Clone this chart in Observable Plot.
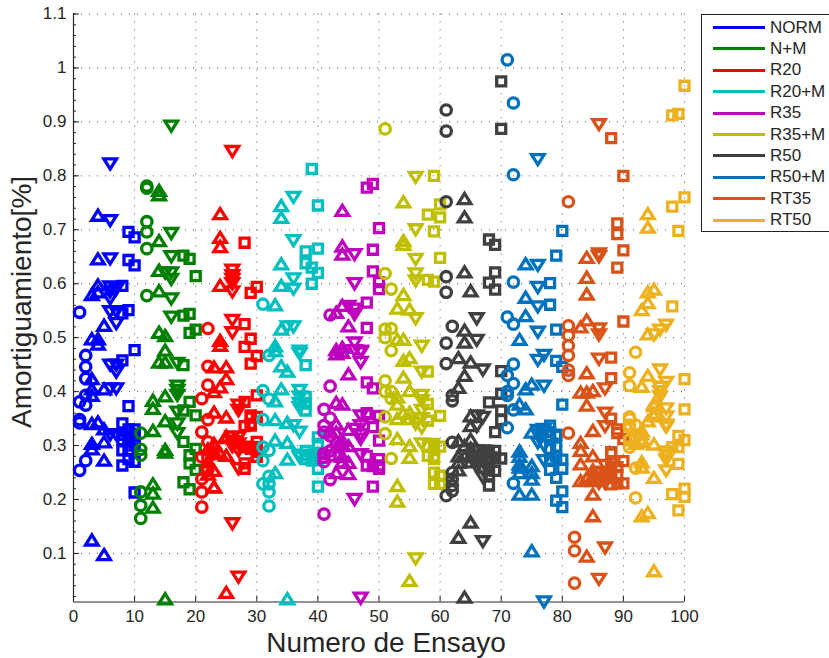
<!DOCTYPE html>
<html><head><meta charset="utf-8">
<script src="https://cdn.jsdelivr.net/npm/d3@7"></script>
<script src="https://cdn.jsdelivr.net/npm/@observablehq/plot@0.6"></script>
<style>
html,body{margin:0;padding:0;background:#fff;overflow:hidden;width:829px;height:658px}
#wrap{position:relative;width:829px;height:658px;font-family:"Liberation Sans",Arial,sans-serif}
#legend{position:absolute;left:701px;top:13.5px;width:140px;height:218.5px;border:1.2px solid #222;background:#fff;box-sizing:border-box}
#legend .row{position:absolute;left:0;height:20px;color:#262626;font-size:17px;line-height:20px}
#legend .sw{position:absolute;left:10.5px;top:8.5px;width:52px;height:3px}
#legend .lb{position:absolute;left:68px;top:0;white-space:nowrap}
</style></head><body><div id="wrap"><div id="chart"></div><div id="legend"></div></div>
<script>
const seriesNames=["NORM","N+M","R20","R20+M","R35","R35+M","R50","R50+M","RT35","RT50"];
const seriesColors=["#0000ff","#008000","#ff0000","#00bfbf","#bf00bf","#bfbf00","#404040","#0072bd","#d95319","#edb120"];
const xTicks=[0,10,20,30,40,50,60,70,80,90,100];
const yTicks=[0.1,0.2,0.3,0.4,0.5,0.6,0.7,0.8,0.9,1,1.1];
const yMinor=d3.range(1,56).map(i=>i*0.02);

const NORM_o=[[1,.547],[2,.467],[2,.446],[2,.424],[1,.381],[2,.393],[2,.375],[1,.348],[1,.342],[2,.272],[1,.254]];
const NORM_u=[[4,.727],[4,.646],[4,.598],[4,.585],[3,.58],[5,.523],[3,.498],[4,.498],[4,.488],[3,.424],[3,.405],[3,.393],[5,.405],[3,.341],[4,.344],[5,.331],[3,.304],[3,.294],[5,.307],[5,.273],[3,.125],[5,.098]];
const NORM_d=[[6,.822],[6,.717],[6,.646],[6,.594],[6,.585],[6,.572],[7,.59],[6,.548],[7,.548],[7,.526],[6,.449],[7,.449],[7,.436],[6,.405],[7,.405],[7,.32],[6,.32]];
const NORM_s=[[9,.696],[10,.686],[9,.644],[10,.634],[8,.596],[9,.551],[8,.545],[10,.477],[8,.458],[9,.373],[8,.341],[10,.322],[9,.316],[8,.31],[8,.291],[8,.263],[10,.27],[9,.291],[10,.213],[9,.31],[9,.33],[9,.275],[10,.3],[10,.31],[8,.32],[10,.33]];

const NM_o=[[12,.781],[12,.777],[12,.715],[12,.696],[12,.665],[12,.578],[11,.323],[11,.293],[11,.282],[11,.214],[11,.189],[11,.165]];
const NM_u=[[14,.773],[14,.765],[14,.68],[14,.625],[14,.587],[14,.51],[15,.504],[15,.477],[14,.455],[15,.455],[13,.384],[13,.369],[15,.392],[13,.328],[15,.346],[15,.293],[15,.288],[13,.229],[13,.212],[13,.186],[15,.016]];
const NM_d=[[16,.892],[16,.693],[16,.65],[16,.62],[16,.608],[15,.62],[16,.572],[16,.538],[17,.452],[17,.41],[17,.402],[17,.393],[17,.362],[17,.34],[17,.322]];
const NM_s=[[18,.652],[19,.646],[20,.614],[18,.541],[19,.544],[19,.509],[20,.515],[18,.449],[18,.365],[19,.381],[20,.356],[18,.307],[20,.294],[19,.282],[19,.267],[20,.255],[18,.232],[19,.219]];

const R20_o=[[22,.517],[22,.447],[22,.412],[21,.387],[22,.348],[21,.325],[22,.307],[21,.279],[21,.238],[21,.214],[21,.186],[22,.278],[22,.255]];
const R20_u=[[24,.73],[24,.686],[24,.669],[24,.597],[24,.495],[24,.486],[23,.446],[25,.446],[25,.424],[24,.409],[23,.4],[23,.362],[25,.353],[25,.318],[23,.304],[23,.288],[25,.282],[24,.285],[23,.254],[22,.247],[23,.223],[25,.028],[25,.315],[23,.3],[22,.294],[23,.285],[22,.27],[23,.224]];
const R20_d=[[26,.845],[26,.625],[26,.615],[26,.608],[26,.6],[26,.585],[26,.532],[26,.509],[27,.375],[27,.365],[26,.316],[27,.315],[27,.303],[26,.307],[26,.298],[27,.29],[27,.257],[26,.155],[27,.056]];
const R20_s=[[28,.676],[30,.594],[29,.583],[28,.525],[29,.498],[28,.483],[30,.466],[29,.452],[30,.393],[28,.381],[29,.356],[30,.353],[28,.336],[29,.34],[30,.307],[28,.298],[30,.291],[29,.294],[28,.267],[30,.279],[28,.257],[29,.337],[29,.352],[28,.297],[29,.297],[30,.297],[30,.288]];

const R20M_o=[[31,.562],[32,.467],[31,.402],[32,.386],[31,.348],[31,.297],[32,.291],[31,.272],[32,.243],[31,.229],[32,.229],[32,.214],[32,.188]];
const R20M_u=[[34,.745],[34,.723],[34,.637],[34,.597],[33,.561],[34,.516],[33,.485],[33,.476],[34,.448],[35,.438],[34,.405],[33,.383],[33,.348],[35,.343],[33,.31],[35,.306],[35,.275],[33,.25],[35,.016]];
const R20M_d=[[36,.76],[36,.68],[36,.609],[36,.59],[36,.52],[35,.52],[37,.475],[37,.47],[37,.402],[37,.39],[37,.378],[37,.37],[36,.337],[37,.325],[37,.282],[37,.278]];
const R20M_s=[[39,.813],[40,.745],[38,.66],[40,.665],[38,.638],[39,.63],[40,.62],[39,.6],[38,.449],[38,.39],[38,.378],[38,.365],[40,.315],[40,.303],[38,.282],[38,.275],[39,.272],[40,.257],[40,.224],[38,.29],[39,.28],[40,.285]];

const R35_o=[[42,.542],[42,.41],[41,.367],[42,.351],[41,.337],[41,.325],[42,.318],[42,.281],[41,.278],[42,.237],[41,.173],[41,.285],[41,.27],[42,.29]];
const R35_u=[[44,.736],[44,.67],[44,.655],[44,.56],[43,.547],[45,.522],[44,.482],[43,.478],[44,.473],[43,.47],[45,.433],[43,.38],[44,.377],[43,.34],[45,.33],[45,.3],[43,.309],[45,.269],[43,.25],[45,.248],[44,.302],[43,.325],[44,.31],[43,.297],[44,.28],[44,.27]];
const R35_d=[[46,.654],[46,.6],[46,.553],[45,.558],[46,.543],[46,.49],[47,.475],[46,.476],[47,.472],[47,.454],[47,.355],[47,.337],[47,.312],[47,.283],[46,.2],[47,.017],[46,.33],[47,.32]];
const R35_s=[[49,.785],[48,.778],[50,.703],[49,.663],[49,.623],[50,.603],[50,.59],[48,.565],[48,.518],[48,.417],[49,.406],[48,.358],[50,.355],[49,.334],[50,.309],[48,.281],[48,.263],[50,.263],[50,.257],[49,.224],[50,.275],[49,.262],[48,.36]];

const R35M_o=[[51,.887],[51,.619],[52,.59],[51,.516],[52,.517],[51,.5],[52,.476],[51,.42],[51,.4],[52,.4],[52,.387],[51,.353],[51,.322],[52,.276]];
const R35M_u=[[54,.752],[54,.68],[54,.673],[54,.58],[53,.555],[55,.553],[53,.497],[54,.497],[54,.458],[55,.463],[54,.427],[55,.402],[53,.377],[53,.35],[55,.362],[53,.313],[55,.3],[55,.278],[53,.226],[53,.197],[55,.05],[53,.39],[54,.36],[55,.35]];
const R35M_d=[[56,.797],[56,.7],[56,.645],[56,.618],[56,.605],[56,.535],[57,.484],[57,.436],[57,.393],[57,.383],[57,.333],[57,.303],[56,.09],[56,.34],[57,.35],[57,.365]];
const R35M_s=[[59,.8],[60,.747],[58,.728],[60,.723],[59,.697],[60,.648],[58,.607],[59,.604],[58,.437],[58,.377],[58,.346],[60,.355],[59,.303],[60,.298],[58,.281],[59,.275],[59,.25],[60,.244],[59,.229],[60,.229],[58,.3],[59,.28]];

const R50_o=[[61,.922],[61,.883],[61,.752],[61,.613],[61,.584],[62,.521],[61,.49],[61,.452],[62,.393],[62,.383],[62,.306],[62,.25],[62,.238],[62,.226],[62,.216],[61,.207]];
const R50_u=[[64,.758],[64,.724],[64,.622],[65,.587],[64,.514],[64,.492],[63,.463],[65,.455],[64,.43],[63,.408],[65,.355],[65,.337],[63,.309],[65,.312],[63,.281],[63,.269],[65,.281],[65,.158],[63,.13],[64,.019],[64,.28],[65,.27],[64,.3],[65,.295],[63,.255]];
const R50_d=[[66,.535],[66,.495],[67,.44],[66,.355],[67,.352],[66,.335],[67,.29],[67,.28],[67,.241],[67,.122],[66,.29],[67,.27],[66,.275],[66,.26],[67,.255]];
const R50_s=[[70,.975],[70,.887],[68,.682],[69,.672],[69,.621],[68,.602],[69,.589],[70,.438],[70,.396],[68,.38],[70,.365],[70,.347],[69,.325],[68,.29],[70,.276],[69,.278],[69,.253],[68,.226],[68,.275],[68,.26],[69,.29],[68,.245]];

const R50M_o=[[71,1.015],[72,.935],[72,.802],[72,.603],[71,.538],[72,.525],[72,.451],[71,.43],[72,.415],[71,.4],[71,.393],[72,.366],[71,.333],[72,.23]];
const R50M_u=[[74,.637],[74,.575],[74,.541],[73,.497],[75,.414],[74,.405],[73,.377],[74,.368],[75,.325],[73,.29],[73,.266],[75,.263],[73,.25],[75,.238],[73,.21],[75,.21],[75,.105],[73,.28],[73,.26],[75,.25]];
const R50M_d=[[76,.83],[76,.634],[76,.593],[76,.557],[76,.51],[77,.467],[76,.458],[77,.41],[76,.328],[77,.322],[77,.272],[77,.01],[76,.32],[77,.33],[77,.3],[76,.305]];
const R50M_s=[[80,.698],[79,.652],[78,.601],[78,.561],[79,.515],[79,.457],[80,.446],[80,.376],[78,.337],[79,.318],[79,.298],[78,.294],[80,.274],[80,.257],[78,.255],[79,.24],[80,.215],[79,.198],[80,.186],[78,.274],[78,.31],[79,.28],[79,.32],[78,.325]];

const RT35_o=[[81,.752],[81,.522],[81,.504],[81,.485],[81,.467],[81,.44],[81,.43],[81,.323],[82,.13],[82,.105],[82,.045]];
const RT35_u=[[84,.649],[84,.612],[84,.581],[84,.533],[83,.52],[84,.435],[83,.399],[84,.399],[85,.402],[84,.375],[85,.328],[83,.306],[83,.291],[85,.281],[83,.266],[85,.244],[83,.235],[85,.21],[85,.17],[84,.095],[85,.235],[84,.24],[85,.255]];
const RT35_d=[[86,.895],[86,.655],[86,.65],[86,.516],[86,.505],[86,.46],[87,.405],[87,.36],[87,.335],[87,.263],[87,.23],[87,.11],[86,.052],[87,.25],[87,.24],[86,.24],[86,.25],[86,.23]];
const RT35_s=[[88,.87],[90,.8],[89,.712],[89,.692],[90,.662],[89,.63],[90,.53],[88,.463],[88,.425],[88,.35],[89,.323],[90,.312],[88,.285],[90,.271],[88,.253],[90,.23],[89,.23],[88,.288],[88,.27],[88,.24],[88,.228],[89,.26],[89,.245],[89,.33]];

const RT50_o=[[92,.473],[91,.435],[91,.411],[91,.349],[91,.333],[91,.297],[92,.315],[92,.258],[92,.203],[91,.353],[91,.338],[92,.338],[91,.31]];
const RT50_u=[[94,.73],[94,.705],[95,.59],[94,.585],[94,.565],[93,.552],[94,.507],[94,.43],[93,.41],[95,.374],[94,.346],[95,.355],[93,.328],[93,.312],[95,.303],[93,.27],[95,.241],[93,.17],[94,.176],[95,.068],[93,.322],[93,.307],[92,.304],[93,.26],[95,.378],[95,.36]];
const RT50_d=[[97,.523],[96,.514],[95,.505],[96,.44],[97,.417],[96,.4],[96,.39],[97,.368],[97,.334],[97,.281],[97,.253],[97,.353],[97,.338],[97,.288],[97,.273],[96,.408]];
const RT50_s=[[100,.967],[98,.912],[99,.915],[100,.76],[98,.743],[99,.698],[98,.558],[100,.423],[100,.367],[99,.318],[100,.31],[98,.297],[99,.297],[99,.266],[98,.21],[100,.22],[100,.205],[99,.18]];

const groups=[
 [NORM_o,NORM_u,NORM_d,NORM_s],[NM_o,NM_u,NM_d,NM_s],[R20_o,R20_u,R20_d,R20_s],[R20M_o,R20M_u,R20M_d,R20M_s],
 [R35_o,R35_u,R35_d,R35_s],[R35M_o,R35M_u,R35M_d,R35M_s],[R50_o,R50_u,R50_d,R50_s],[R50M_o,R50M_u,R50M_d,R50M_s],
 [RT35_o,RT35_u,RT35_d,RT35_s],[RT50_o,RT50_u,RT50_d,RT50_s]];

const triUp={draw(c,size){const r=Math.sqrt(size/Math.PI),h=r*.8;c.moveTo(0,-h);c.lineTo(r,h);c.lineTo(-r,h);c.closePath();}};
const triDown={draw(c,size){const r=Math.sqrt(size/Math.PI),h=r*.8;c.moveTo(0,h);c.lineTo(r,-h);c.lineTo(-r,-h);c.closePath();}};
const shapes=[{symbol:"circle",r:5.2},{symbol:triUp,r:6.3},{symbol:triDown,r:6.3},{symbol:"square",r:5.08}];

const dotMarks=[];
groups.forEach((g,i)=>g.forEach((pts,j)=>{
  dotMarks.push(Plot.dot(pts,{x:d=>d[0],y:d=>d[1],symbol:shapes[j].symbol,r:shapes[j].r,stroke:seriesColors[i],strokeWidth:3.3,fill:"none",strokeLinejoin:"miter",strokeMiterlimit:10,clip:false}));
}));
const ink="#262626";
const chart=Plot.plot({
  width:829,height:658,marginLeft:73,marginRight:145,marginTop:13.5,marginBottom:56.5,
  style:{fontFamily:'"Liberation Sans",Arial,sans-serif',background:"#fff",display:"block",overflow:"visible"},
  x:{domain:[0,100]},
  y:{domain:[0.01,1.1]},
  marks:[
    Plot.gridX(xTicks,{stroke:"#555",strokeOpacity:1,strokeDasharray:"1 7",strokeWidth:1}),
    Plot.gridY(yTicks,{stroke:"#555",strokeOpacity:1,strokeDasharray:"1 7",strokeWidth:1}),
    Plot.axisY(yMinor,{anchor:"left",tickSize:-3,text:null,label:null,stroke:ink}),
    Plot.axisY(yTicks,{anchor:"left",tickSize:-6,text:null,label:null,stroke:ink}),
    Plot.axisX(xTicks,{anchor:"bottom",tickSize:-6,text:null,label:null,stroke:ink}),
    Plot.axisY(yTicks,{anchor:"left",tickSize:0,tickPadding:7,label:null,fontSize:17,fill:ink,tickFormat:d=>String(d)}),
    Plot.axisX(xTicks,{anchor:"bottom",tickSize:0,tickPadding:8,label:null,fontSize:17,fill:ink,tickFormat:d=>String(d)}),
    Plot.ruleX([0],{stroke:ink,strokeWidth:1.2}),
    Plot.ruleY([0.01],{stroke:ink,strokeWidth:1.2}),
    ...dotMarks,
    Plot.text(["Numero de Ensayo"],{text:d=>d,frameAnchor:"bottom",dy:50,dx:7,fontSize:28,fill:ink}),
    Plot.text(["Amortiguamiento[%]"],{text:d=>d,frameAnchor:"left",textAnchor:"middle",rotate:-90,dx:-51,dy:-6,fontSize:28,fill:ink})
  ]
});
document.getElementById("chart").appendChild(chart);
const legend=document.getElementById("legend");
seriesNames.forEach((n,i)=>{
  const row=document.createElement("div");row.className="row";row.style.top=(3+i*21.4)+"px";
  row.innerHTML='<span class="sw" style="background:'+seriesColors[i]+'"></span><span class="lb">'+n+'</span>';
  legend.appendChild(row);
});
</script></body></html>
